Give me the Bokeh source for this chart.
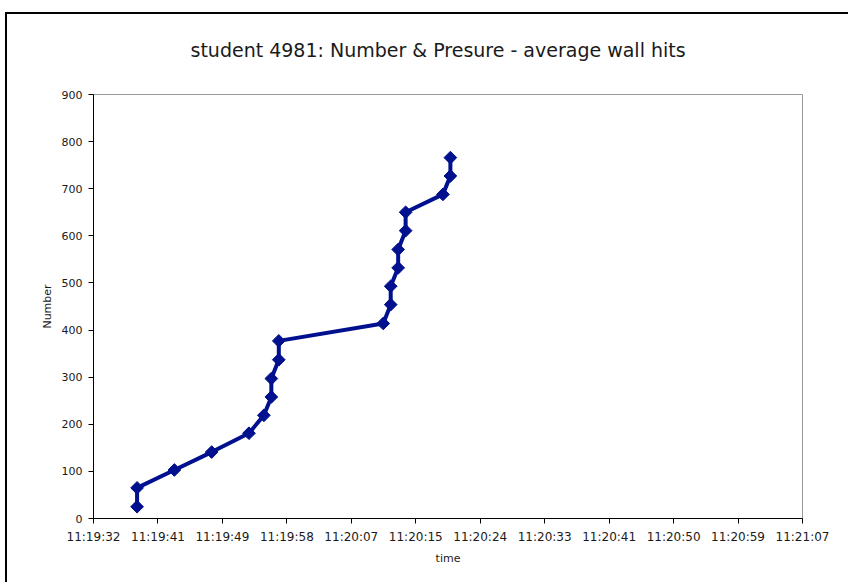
import math

from bokeh.plotting import figure
from bokeh.models import Range1d, FixedTicker, Title
from bokeh.embed import file_html
from bokeh.resources import INLINE

# --- data -------------------------------------------------------------
title_text = "student 4981: Number & Presure - average wall hits"

times = ["11:19:38", "11:19:38", "11:19:43", "11:19:48", "11:19:53",
         "11:19:55", "11:19:56", "11:19:56", "11:19:57", "11:19:57",
         "11:20:11", "11:20:12", "11:20:12", "11:20:13", "11:20:13",
         "11:20:14", "11:20:14", "11:20:19", "11:20:20", "11:20:20"]
numbers = [25, 65, 103, 141, 181, 219, 258, 297, 337, 377,
           414, 454, 493, 532, 571, 611, 650, 688, 727, 766]

# x-axis ticks as fractions of a day (spreadsheet time serials)
tick_days = [0.4719, 0.4720, 0.4721, 0.4722, 0.4723, 0.4724,
             0.4725, 0.4726, 0.4727, 0.4728, 0.4729, 0.4730]
tick_labels = ["11:19:32", "11:19:41", "11:19:49", "11:19:58", "11:20:07",
               "11:20:15", "11:20:24", "11:20:33", "11:20:41", "11:20:50",
               "11:20:59", "11:21:07"]
y_ticks = [0, 100, 200, 300, 400, 500, 600, 700, 800, 900]


def to_seconds(t):
    h, m, s = (int(v) for v in t.split(":"))
    return h * 3600 + m * 60 + s


xs = [to_seconds(t) for t in times]
tick_secs = [round(d * 86400, 3) for d in tick_days]

FONT = "DejaVu Sans"
LINE = "#00108E"
TEXT = "#1a1a1a"

p = figure(width=843, height=570, output_backend="svg", toolbar_location=None,
           x_range=Range1d(tick_secs[0], tick_secs[-1]),
           y_range=Range1d(0, 900),
           min_border_left=86, min_border_right=48,
           min_border_top=80, min_border_bottom=66)
p.title = None
# empty spacer title keeps the real title clear of the plot area
p.add_layout(Title(text=" ", text_font_size="15px"), "above")
p.add_layout(Title(text=title_text, align="left", offset=97,
                   text_font=FONT, text_font_size="19px",
                   text_font_style="normal", text_color=TEXT), "above")

p.styles = {"margin-left": "5px", "margin-top": "12px",
            "border-left": "2px solid black", "border-top": "2px solid black"}

p.background_fill_color = "white"
p.border_fill_color = "white"
p.outline_line_color = "#999999"
p.outline_line_width = 1
p.grid.visible = False

p.line(xs, numbers, line_color=LINE, line_width=4)
p.scatter(xs, numbers, marker="square", size=9, angle=math.pi / 4,
          fill_color=LINE, line_color=LINE)

# x axis
xa = p.xaxis[0]
xa.ticker = FixedTicker(ticks=tick_secs)
xa.major_label_overrides = {t: lab for t, lab in zip(tick_secs, tick_labels)}
xa.axis_label = "time"
xa.minor_tick_line_color = None

# y axis
ya = p.yaxis[0]
ya.ticker = FixedTicker(ticks=y_ticks)
ya.axis_label = "Number"
ya.minor_tick_line_color = None

for ax in (xa, ya):
    ax.axis_line_color = "black"
    ax.axis_line_width = 1
    ax.major_tick_line_color = "black"
    ax.major_tick_in = 0
    ax.major_tick_out = 5
    ax.major_label_text_font = FONT
    ax.major_label_text_font_size = "11px"
    ax.major_label_text_color = TEXT
    ax.axis_label_text_font = FONT
    ax.axis_label_text_font_size = "11px"
    ax.axis_label_text_font_style = "normal"
    ax.axis_label_text_color = TEXT

xa.major_label_text_font_size = "12px"
xa.major_label_standoff = 6
xa.axis_label_standoff = 5
ya.major_label_standoff = 6
ya.axis_label_standoff = 5

open("out.html", "w").write(file_html(p, INLINE))
